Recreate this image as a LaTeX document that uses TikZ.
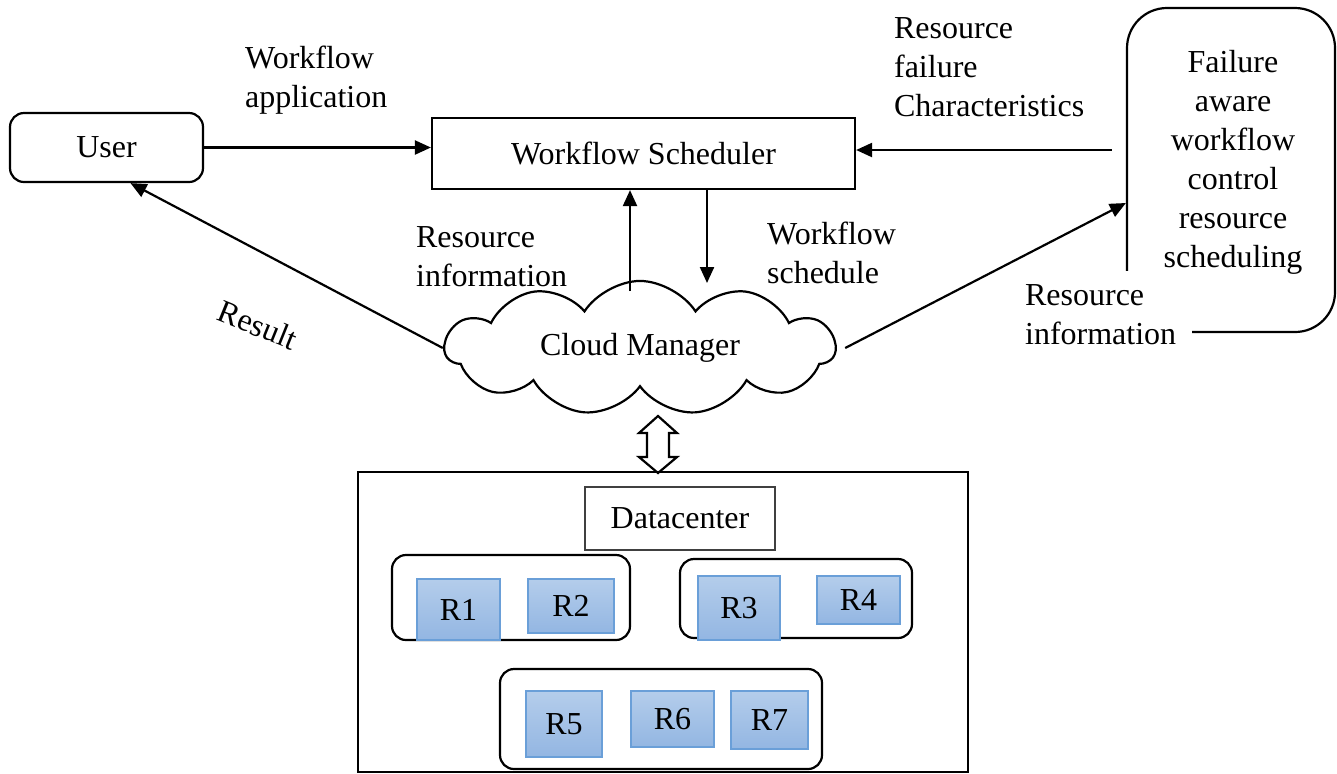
\documentclass[tikz,border=0pt]{standalone}
\usepackage{fontspec}
\setmainfont{Liberation Serif}
\usetikzlibrary{shapes.symbols,arrows.meta,positioning}
\definecolor{restop}{HTML}{B4CDEB}
\definecolor{resbot}{HTML}{93B6E2}
\definecolor{resedge}{HTML}{6A9FD8}
\begin{document}
\begin{tikzpicture}[x=0.5pt,y=-0.5pt,line width=1.1pt,>={Triangle[length=8pt,width=7pt]},
  font=\fontsize{16}{19.5}\selectfont]
\tikzstyle{box}=[draw,inner sep=0pt]
\tikzstyle{rbox}=[draw,rounded corners=7pt,inner sep=0pt]
\tikzstyle{res}=[draw=resedge,line width=0.6pt,top color=restop,bottom color=resbot,inner sep=0pt]
\tikzstyle{lbl}=[align=left,anchor=west,inner sep=0pt]
\useasboundingbox (0,0) rectangle (1337,773);

% top row
\node[rbox,minimum width=96.5pt,minimum height=34.5pt] (user) at (106.5,147.5) {User};
\node[box,minimum width=211.5pt,minimum height=35.5pt] (sched) at (643.5,153.5) {Workflow Scheduler};
\node[draw,rounded corners=20pt,minimum width=104pt,minimum height=162pt] (fail) at (1231,170) {};
\node[align=center,inner sep=0pt] (failtxt) at (1233,162) {Failure\\aware\\workflow\\control\\resource\\scheduling};
\node[cloud,draw,cloud puffs=11,cloud puff arc=115,aspect=3,minimum width=195pt,minimum height=62pt,inner sep=0pt] (cloud) at (640,348) {Cloud Manager};
\coordinate (up0) at (630,291);
\coordinate (dn1) at (707,283);

\draw[->] (user.east) -- (user.east -| sched.west);
\draw[->] ([xshift=-7pt,yshift=10pt]fail.west) -- ([yshift=10pt]fail.west -| sched.east);
\draw[->] (up0) -- (up0 |- sched.south);
\draw[->] (dn1 |- sched.south) -- (dn1);
\draw[->] (cloud.west) -- ([xshift=12pt]user.south);
\draw[->] ([xshift=4pt]cloud.east) -- ([yshift=-16.5pt]fail.west);

\node[lbl] (wfapp) at (244,80) {Workflow\\application};
\node[lbl] (rfc) at (893,67) {Resource\\failure\\Characteristics};
\node[lbl] (rinfo) at (415,257) {Resource\\information};
\node[lbl] (wfs) at (766,253) {Workflow\\schedule};
\node[lbl,fill=white,inner xsep=8pt,inner ysep=7pt] (rinfo2) at (1008,315) {Resource\\information};
\node[rotate=-22] (reslbl) at (258,325) {Result};

% datacenter
\node[box,minimum width=305pt,minimum height=150pt] (dc) at (663,622) {};
\draw (658,416) -- (677,433) -- (669,433) -- (669,457) -- (677,457) -- (658,473)
  -- (639,457) -- (647,457) -- (647,433) -- (639,433) -- cycle;
\node[draw=black!75,line width=0.6pt,minimum width=95pt,minimum height=31.5pt] (dclbl) at (680,518.5) {Datacenter};
\node[rbox,minimum width=119pt,minimum height=42.5pt] (g1) at (511,597.5) {};
\node[rbox,minimum width=116pt,minimum height=39.5pt] (g2) at (796,598.5) {};
\node[rbox,minimum width=161pt,minimum height=50pt] (g3) at (661,719) {};
\node[res,minimum width=41.5pt,minimum height=30.5pt] (r1) at (458.5,609.5) {R1};
\node[res,minimum width=43pt,minimum height=27pt] (r2) at (571,606) {R2};
\node[res,minimum width=41pt,minimum height=32pt] (r3) at (739,608) {R3};
\node[res,minimum width=41.5pt,minimum height=24pt] (r4) at (858.5,600) {R4};
\node[res,minimum width=38pt,minimum height=33pt] (r5) at (564,724) {R5};
\node[res,minimum width=41.5pt,minimum height=28pt] (r6) at (672.5,719) {R6};
\node[res,minimum width=38.5pt,minimum height=29pt] (r7) at (769.5,720) {R7};
\end{tikzpicture}
\end{document}
